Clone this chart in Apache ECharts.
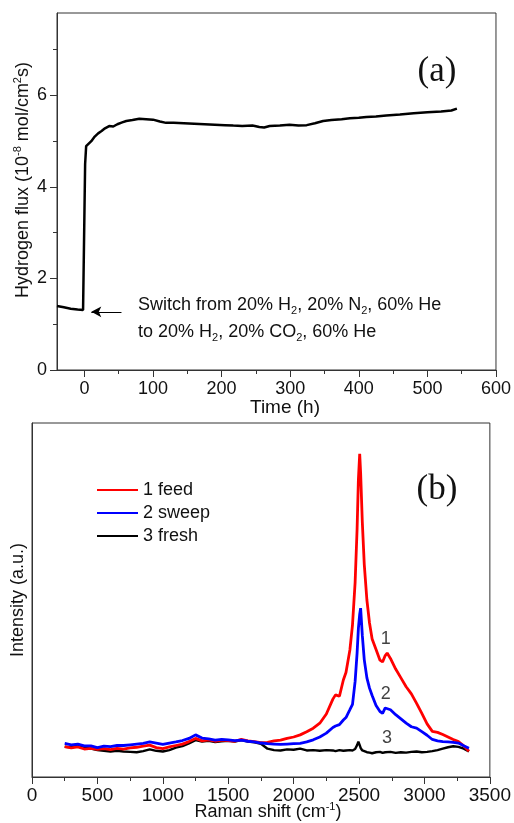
<!DOCTYPE html>
<html><head><meta charset="utf-8">
<script src="https://cdn.jsdelivr.net/npm/echarts@6/dist/echarts.min.js"></script>
<style>html,body{margin:0;padding:0;background:#fff}#c{width:514px;height:823px}</style>
</head><body><div id="c"></div>
<script>
// ---- Panel (a): hydrogen flux vs time ----
const timeH = [-40,-30,-20,-10,-2,0,1,2.5,5,10,15,20,25,30,36,42,48,55,61,70,80,90,100,110,119,130,145,160,175,190,205,217,230,245,255,262,270,285,299,312,324,336,348,360,375,387,400,411,425,440,460,480,500,520,535,543];
const fluxVal = [1.40,1.37,1.34,1.32,1.31,1.30,4.5,4.89,4.93,5.00,5.10,5.17,5.22,5.28,5.33,5.32,5.37,5.41,5.44,5.46,5.49,5.48,5.47,5.43,5.40,5.40,5.39,5.38,5.37,5.36,5.35,5.34,5.33,5.34,5.31,5.30,5.33,5.34,5.36,5.34,5.35,5.39,5.44,5.46,5.48,5.50,5.51,5.53,5.54,5.56,5.58,5.61,5.63,5.65,5.67,5.71];
const timeTicks = [0,100,200,300,400,500,600];
const timeMinorTicks = [50,150,250,350,450,550];
const fluxTicks = [0,2,4,6];
const fluxMinorTicks = [1,3,5,7];
const arrowFrom = [54,1.27];
const arrowTo = [10,1.27];

// ---- Panel (b): Raman spectra ----
const ramanShift = [250,300,350,400,450,500,550,600,650,700,750,800,850,900,950,1000,1050,1100,1150,1200,1250,1300,1350,1400,1450,1500,1550,1600,1650,1700,1750,1800,1850,1900,1950,2000,2050,2100,2150,2200,2250,2300,2320,2330,2350,2380,2400,2430,2450,2470,2485,2495,2505,2512,2525,2540,2560,2580,2600,2630,2660,2680,2700,2715,2740,2780,2820,2860,2900,2940,2980,3020,3060,3100,3140,3180,3220,3260,3300,3340];
const feedI = [8.6,8.2,8.5,7.9,8.1,7.8,8.0,7.7,8.1,7.9,8.2,8.4,8.7,9.0,8.3,8.0,8.5,8.9,9.3,10.0,10.9,10.2,10.5,10.1,10.4,10.3,10.1,10.6,10.2,10.0,9.7,9.8,10.2,10.4,10.9,11.3,11.9,12.8,13.8,15.2,17.8,22.0,23.2,23.6,22.8,27.4,29.5,35.9,43.0,55.0,70.0,84.0,91.3,86.0,72.0,60.0,50.0,43.5,39.0,36.0,33.0,32.5,34.3,35.0,33.5,30.5,28.0,25.5,23.5,20.8,18.0,15.0,12.9,12.6,12.0,11.3,10.6,10.0,8.8,7.3];
const sweepI = [9.5,9.1,9.3,8.8,8.8,8.3,8.7,8.6,8.9,8.9,9.1,9.3,9.5,9.9,9.6,9.2,9.6,9.9,10.3,10.9,11.9,11.0,10.8,10.4,10.6,10.5,10.3,10.4,10.1,9.9,9.6,9.4,9.3,9.2,9.3,9.4,9.5,9.9,10.5,11.3,12.4,14.0,14.4,14.6,14.8,16.1,16.8,19.0,20.5,27.0,35.0,42.0,46.0,47.7,40.0,33.1,28.0,25.1,23.0,20.2,18.5,18.0,19.5,19.9,19.0,17.6,16.4,15.2,14.2,13.8,12.8,11.8,10.6,10.2,10.0,9.9,9.8,9.6,8.8,8.1];
const freshI = [8.5,8.4,9.2,8.3,8.0,7.6,7.4,7.2,7.4,7.2,7.1,7.0,7.3,7.8,7.4,7.2,7.6,8.3,8.7,9.5,10.4,10.0,10.2,9.9,10.1,10.2,10.0,10.4,10.0,9.8,9.4,8.0,7.6,7.5,7.8,7.7,8.0,7.5,7.6,7.4,7.6,7.5,7.3,7.5,7.6,7.4,7.5,7.6,7.5,7.9,9.0,10.0,9.0,8.2,7.5,7.2,7.0,6.9,6.7,7.0,7.1,6.8,7.0,6.9,7.1,6.8,7.0,6.9,7.1,7.2,7.0,7.1,7.3,7.6,8.0,8.4,8.7,8.5,8.0,7.2];
const seriesNames = ['1 feed','2 sweep','3 fresh'];
const peakLabelX = [2705,2705,2713];
const peakLabelY = [39,23.4,11.0];
const peakLabelText = ['1','2','3'];

const FONT = 'Liberation Sans, Arial, sans-serif';
const zip = (xs, ys) => xs.map((x, i) => [x, ys[i]]);
const plain = v => String(v);

const chart = echarts.init(document.getElementById('c'), null, {renderer:'canvas'});
const axisLineStyle = {color:'#333', width:1};
const richBase = {
  n:{fontSize:18, fontFamily:FONT, lineHeight:22, fill:'#111', color:'#111'},
  sup:{fontSize:11, fontFamily:FONT, verticalAlign:'top', color:'#111', fill:'#111'},
  sub:{fontSize:11, fontFamily:FONT, verticalAlign:'bottom', color:'#111', fill:'#111'}
};
function txt(x, y, text, opts) {
  opts = opts || {};
  return {
    type:'text', x:x, y:y, rotation: opts.rotation || 0, silent:true,
    style:{text:text, align: opts.align || 'center', verticalAlign:'middle',
      font: (opts.size||18) + 'px ' + (opts.family || FONT), fill:'#111',
      rich: opts.rich ? richBase : undefined}
  };
}

const option = {
  animation:false,
  backgroundColor:'#fff',
  grid:[
    {left:57, top:13, width:439, height:357, show:true, borderColor:'#333', borderWidth:1},
    {left:32, top:423, width:458, height:354, show:true, borderColor:'#333', borderWidth:1}
  ],
  xAxis:[
    {type:'value', gridIndex:0, min:-40, max:600, axisLine:{onZero:false, lineStyle:axisLineStyle},
     axisTick:{customValues:timeTicks, length:7, lineStyle:axisLineStyle},
     axisLabel:{customValues:timeTicks, formatter:plain, fontSize:18, fontFamily:FONT, color:'#111', margin:10},
     splitLine:{show:false}},
    {type:'value', gridIndex:0, min:-40, max:600, position:'bottom', axisLine:{show:false, onZero:false},
     axisTick:{customValues:timeMinorTicks, length:4, lineStyle:axisLineStyle},
     axisLabel:{show:false}, splitLine:{show:false}},
    {type:'value', gridIndex:1, min:0, max:3500, interval:500, axisLine:{onZero:false, lineStyle:axisLineStyle},
     axisTick:{length:7, lineStyle:axisLineStyle},
     minorTick:{show:true, splitNumber:2, length:4, lineStyle:axisLineStyle},
     axisLabel:{formatter:plain, fontSize:19, fontFamily:FONT, color:'#111', margin:9},
     splitLine:{show:false}, minorSplitLine:{show:false}}
  ],
  yAxis:[
    {type:'value', gridIndex:0, min:0, max:7.8, axisLine:{show:true, onZero:false, lineStyle:axisLineStyle},
     axisTick:{show:true, customValues:fluxTicks, length:7, lineStyle:axisLineStyle},
     axisLabel:{customValues:fluxTicks, formatter:plain, fontSize:18, fontFamily:FONT, color:'#111', margin:10},
     splitLine:{show:false}},
    {type:'value', gridIndex:0, min:0, max:7.8, position:'left', axisLine:{show:false, onZero:false},
     axisTick:{show:true, customValues:fluxMinorTicks, length:4, lineStyle:axisLineStyle},
     axisLabel:{show:false}, splitLine:{show:false}},
    {type:'value', gridIndex:1, min:0, max:100, axisLine:{show:true, onZero:false, lineStyle:axisLineStyle},
     axisTick:{show:false}, axisLabel:{show:false}, splitLine:{show:false}}
  ],
  legend:{
    data:seriesNames, orient:'vertical', left:97, top:481, padding:0, itemWidth:41, itemHeight:14, itemGap:5,
    icon:'path://M0,6 L41,6 L41,8 L0,8 Z',
    textStyle:{fontSize:18, fontFamily:FONT, color:'#111', padding:[0,0,0,0]}
  },
  series:[
    {name:'flux', type:'line', xAxisIndex:0, yAxisIndex:0, data:zip(timeH, fluxVal), symbol:'none',
     lineStyle:{color:'#000', width:2.5}, itemStyle:{color:'#000'},
     markLine:{silent:true, symbol:['none','arrow'], symbolSize:[8,10], label:{show:false},
       itemStyle:{color:'#000'},
       lineStyle:{color:'#000', width:1, type:'solid'},
       data:[[{coord:arrowFrom},{coord:arrowTo}]]}},
    {name:seriesNames[0], type:'line', xAxisIndex:2, yAxisIndex:2, data:zip(ramanShift, feedI), symbol:'none',
     lineStyle:{color:'#ff0000', width:2.8}, itemStyle:{color:'#ff0000'}, z:3},
    {name:seriesNames[1], type:'line', xAxisIndex:2, yAxisIndex:2, data:zip(ramanShift, sweepI), symbol:'none',
     lineStyle:{color:'#0000ff', width:2.8}, itemStyle:{color:'#0000ff'}, z:4},
    {name:seriesNames[2], type:'line', xAxisIndex:2, yAxisIndex:2, data:zip(ramanShift, freshI), symbol:'none',
     lineStyle:{color:'#000', width:2.4}, itemStyle:{color:'#000'}, z:2},
    {name:'peakLabels', type:'scatter', xAxisIndex:2, yAxisIndex:2, symbolSize:0,
     data:peakLabelX.map((x,i)=>({value:[x, peakLabelY[i]], name:peakLabelText[i]})),
     label:{show:true, position:'inside', formatter:p=>p.name, fontSize:18, fontFamily:FONT, color:'#111'}}
  ],
  graphic:[
    txt(23, 180, '{n|Hydrogen flux (10}{sup|-8}{n| mol/cm}{sup|2}{n|s)}', {rotation:Math.PI/2, rich:true, size:19}),
    txt(285, 408, 'Time (h)', {size:19}),
    txt(18, 600, 'Intensity (a.u.)', {rotation:Math.PI/2, size:18}),
    txt(268, 812, '{n|Raman shift (cm}{sup|-1}{n|)}', {rich:true, size:19}),
    txt(138, 305, '{n|Switch from 20% H}{sub|2}{n|, 20% N}{sub|2}{n|, 60% He}', {rich:true, align:'left'}),
    txt(138, 332, '{n|to 20% H}{sub|2}{n|, 20% CO}{sub|2}{n|, 60% He}', {rich:true, align:'left'}),
    txt(437, 72, '(a)', {size:35, family:'Liberation Serif, Times New Roman, serif'}),
    txt(437, 490, '(b)', {size:35, family:'Liberation Serif, Times New Roman, serif'})
  ]
};
chart.setOption(option);
</script>
</body></html>
